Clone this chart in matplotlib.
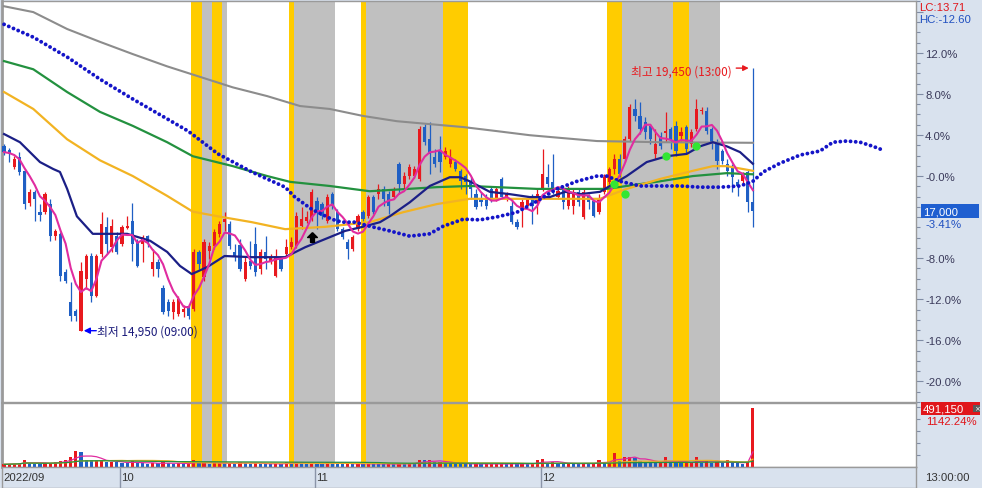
import numpy as np
import pandas as pd
import matplotlib
matplotlib.use("Agg")
import matplotlib.pyplot as plt
from matplotlib import font_manager as fm
from matplotlib.patches import Rectangle

# ---------------- data (prices in KRW) ----------------
opens = [18110, 18050, 17750, 17930, 17690, 17140, 17330, 16980, 16980, 17120,
         16570, 16610, 15960, 15440, 15290, 14950, 15840, 16230, 15540, 16260,
         16730, 16380, 16570, 16440, 16710, 16830, 16470, 16440, 16570, 16010,
         16130, 15680, 15440, 15270, 15240, 15270, 15370, 15320, 16300, 15870,
         16320, 16400, 16610, 16810, 16780, 16300, 16420, 15840, 16140, 16440,
         16010, 16300, 16140, 15890, 16180, 16260, 16380, 16400, 16740, 16830,
         16860, 17170, 17120, 16830, 17290, 16980, 16690, 16470, 16350, 16690,
         16980, 16910, 17240, 17290, 17380, 17290, 17240, 17810, 17460, 17600,
         17600, 17550, 18440, 18230, 17930, 18030, 17930, 17810, 17840, 17690,
         17600, 17510, 17290, 17210, 17210, 17380, 17210, 17550, 17210, 17090,
         16810, 17030, 17090, 17210, 17150, 17380, 17580, 17500, 17240, 17380,
         17090, 17090, 17330, 16900, 17260, 17170, 16980, 17330, 17500, 17720,
         17890, 17890, 18230, 18750, 18630, 18520, 18460, 17980, 18290, 18340,
         18410, 18460, 18290, 18440, 18150, 18410, 18710, 18710, 18410, 18180,
         18030, 17810, 17750, 17500, 17510, 17670, 17150]
highs = [18150, 18080, 17940, 18010, 17720, 17380, 17360, 17120, 17330, 17210,
         16690, 16640, 16010, 15780, 15320, 16130, 16260, 16280, 16260, 16980,
         16900, 16860, 16640, 16760, 16910, 17140, 16520, 16590, 16590, 16350,
         16180, 15730, 15490, 15490, 15540, 15390, 15410, 16350, 16330, 16520,
         16470, 16690, 16830, 16980, 16830, 16440, 16520, 16210, 16490, 16730,
         16350, 16570, 16260, 16350, 16210, 16520, 16560, 16980, 17070, 17000,
         17380, 17240, 17150, 17290, 17330, 17030, 16730, 16520, 16590, 16950,
         17020, 17270, 17270, 17460, 17430, 17340, 17410, 17840, 17670, 17810,
         17770, 18460, 18490, 18520, 18060, 18290, 18100, 18060, 17890, 17720,
         17630, 17580, 17380, 17330, 17290, 17430, 17410, 17580, 17330, 17210,
         16860, 17210, 17240, 17290, 17380, 18060, 17810, 17980, 17410, 17430,
         17430, 17380, 17380, 17380, 17290, 17210, 17290, 17630, 17750, 17980,
         17980, 18290, 18830, 18920, 18870, 18610, 18490, 18410, 18350, 18700,
         18440, 18540, 18440, 18470, 18410, 18920, 18780, 18780, 18440, 18230,
         18060, 17890, 17810, 17550, 17670, 17720, 19450]
lows = [17960, 17840, 17720, 17620, 17030, 17090, 16830, 16830, 16950, 16490,
        16500, 15800, 15770, 15120, 15120, 14950, 15660, 15440, 15530, 16210,
        16260, 16300, 16260, 16400, 16690, 16140, 16040, 16130, 16380, 15890,
        15870, 15240, 15200, 15150, 15200, 15190, 15150, 15290, 16010, 15800,
        16180, 16350, 16560, 16660, 16350, 16140, 15970, 15800, 16010, 15890,
        15920, 16010, 16090, 15870, 15970, 16210, 16350, 16370, 16690, 16790,
        16830, 16690, 16860, 16790, 17030, 16660, 16520, 16180, 16320, 16660,
        16830, 16880, 16950, 17210, 17090, 16950, 17210, 17290, 17380, 17550,
        17570, 17510, 18130, 17630, 17750, 17670, 17890, 17750, 17690, 17380,
        17290, 17210, 17030, 17090, 17030, 17150, 17170, 17210, 17170, 16780,
        16690, 16730, 17030, 16780, 16950, 17340, 17410, 17290, 17210, 17030,
        17030, 16950, 17090, 16860, 17030, 16900, 16950, 17290, 17460, 17630,
        17580, 17840, 18200, 18540, 18320, 18230, 18150, 17890, 18060, 18180,
        18060, 17940, 18200, 17980, 18100, 18370, 18660, 18320, 18060, 17720,
        17810, 17600, 17330, 17260, 17460, 16980, 16730]
closes = [18010, 17980, 17890, 17670, 17120, 17330, 17210, 16930, 17290, 16570,
          16660, 15890, 15800, 15200, 15200, 15970, 16230, 15540, 16230, 16780,
          16440, 16740, 16300, 16730, 16740, 16440, 16060, 16560, 16470, 16130,
          16010, 15270, 15290, 15440, 15490, 15320, 15200, 16300, 16090, 16470,
          16400, 16640, 16780, 16860, 16400, 16230, 16010, 16130, 16060, 15960,
          16300, 16180, 16200, 16230, 16010, 16380, 16470, 16910, 16860, 16900,
          17330, 17000, 16910, 17240, 17090, 16690, 16560, 16350, 16560, 16910,
          16860, 17240, 16980, 17380, 17210, 17090, 17340, 17460, 17600, 17750,
          17720, 18410, 18180, 17980, 17810, 17840, 18030, 17930, 17720, 17510,
          17500, 17380, 17070, 17150, 17090, 17210, 17380, 17240, 17290, 16810,
          16730, 17150, 17210, 17090, 17290, 17630, 17460, 17340, 17340, 17150,
          17380, 17330, 17150, 17330, 17150, 16910, 17210, 17580, 17720, 17890,
          17630, 18230, 18780, 18630, 18410, 18350, 18230, 18150, 18110, 18370,
          18230, 18030, 18350, 18060, 18350, 18750, 18730, 18370, 18180, 17860,
          17860, 17690, 17580, 17430, 17630, 17150, 17000]
volumes = [22000, 25000, 28000, 30000, 60000, 30000, 28000, 26000, 32000, 35000,
           45000, 52000, 55000, 85000, 130000, 125000, 60000, 55000, 58000, 62000,
           40000, 42000, 38000, 35000, 30000, 50000, 35000, 30000, 28000, 32000,
           30000, 38000, 30000, 28000, 30000, 26000, 28000, 60000, 35000, 40000,
           28000, 30000, 32000, 30000, 35000, 25000, 45000, 30000, 25000, 35000,
           28000, 25000, 22000, 28000, 24000, 45000, 30000, 38000, 30000, 26000,
           35000, 28000, 26000, 45000, 30000, 28000, 26000, 30000, 25000, 28000,
           24000, 30000, 26000, 25000, 24000, 26000, 22000, 30000, 28000, 32000,
           30000, 60000, 55000, 55000, 40000, 45000, 35000, 30000, 28000, 26000,
           25000, 24000, 28000, 22000, 24000, 25000, 26000, 28000, 22000, 30000,
           25000, 28000, 24000, 26000, 55000, 65000, 35000, 38000, 28000, 26000,
           30000, 28000, 25000, 35000, 24000, 28000, 60000, 40000, 45000, 120000,
           50000, 80000, 85000, 75000, 50000, 45000, 40000, 35000, 38000, 85000,
           40000, 35000, 30000, 35000, 40000, 85000, 30000, 60000, 35000, 40000,
           30000, 55000, 35000, 30000, 28000, 43000, 491150]

# moving-average lines (bar index, price)
ma20_idx = [0, 3.1, 7, 9.6, 10.9, 12.3, 14.2, 17.3, 24, 28.5, 31.8, 34.3, 36.6, 39.6, 43,
            48.3, 54.8, 58.7, 62.6, 66.5, 70.4, 73.3, 75.2, 79.1, 83, 86.9, 88.9, 90.8,
            94.7, 98.6, 102.5, 106.4, 109.4, 112.3, 116.2, 118.1, 121.4, 125.3, 129.2,
            133.1, 135.7, 138.2, 140.9, 143.5, 146]
ma20_val = [18320, 18180, 17840, 17720, 17670, 17380, 16910, 16610, 16610, 16490, 16300,
            16060, 15920, 16040, 16230, 16210, 16210, 16380, 16520, 16660, 16740, 16810,
            16910, 17150, 17430, 17580, 17580, 17510, 17330, 17290, 17240, 17240, 17330,
            17290, 17330, 17430, 17600, 17840, 17940, 17980, 18110, 18180, 18110, 18010,
            17810]
ma60_idx = [0, 5.7, 12.3, 18.7, 25.1, 31.8, 36.8, 41.7, 48.3, 54.8, 62.6, 71.3, 77.8,
            84.4, 90.8, 97.3, 109.4, 116.2, 121.4, 127.9, 134.3, 138.2, 140.9, 146]
ma60_val = [19040, 18750, 18230, 17870, 17600, 17260, 16990, 16910, 16810, 16690, 16730,
            16810, 16980, 17120, 17210, 17210, 17210, 17210, 17380, 17550, 17690, 17770,
            17770, 17690]
ma120_idx = [0, 5.7, 12.3, 18.7, 25.1, 31.8, 36.8, 44.6, 51.3, 55.8, 63.5, 71.3, 84.4,
             90.8, 103.9, 109.4, 117.5, 121.4, 127.9, 134.3, 140.9, 146]
ma120_val = [19570, 19430, 19040, 18700, 18460, 18180, 17940, 17770, 17600, 17500, 17430,
             17340, 17410, 17430, 17380, 17380, 17380, 17430, 17510, 17600, 17650, 17630]
ma240_idx = [0, 5.7, 12.3, 18.7, 25.1, 31.8, 38.2, 44.6, 51.3, 57.7, 63.5, 70, 76.6, 83,
             89.5, 96.1, 102.5, 109, 115.6, 127.9, 146]
ma240_val = [20510, 20410, 20120, 19900, 19690, 19480, 19300, 19120, 18970, 18800, 18750,
             18630, 18540, 18490, 18440, 18370, 18300, 18250, 18200, 18180, 18170]
span_idx = [0, 5.7, 12.3, 18.7, 25.1, 31.8, 35.9, 41.7, 48.3, 54.8, 56.7, 60, 63.9, 65.9,
            68.4, 71.3, 75.2, 79.1, 83, 85.6, 89.5, 92.8, 96.1, 100, 103.9, 107.8, 111.7,
            115.6, 117.5, 120.1, 124, 127.9, 131.8, 135.7, 139.6, 143.5, 146, 148, 151.3,
            155.2, 159.1, 161.6, 164.3, 166.9, 169.4, 171.2]
span_val = [20200, 19980, 19640, 19260, 18920, 18580, 18370, 17980, 17670, 17410, 17240,
            17030, 16860, 16810, 16810, 16740, 16660, 16570, 16610, 16740, 16860, 16850,
            16900, 16980, 17170, 17380, 17510, 17600, 17600, 17510, 17430, 17430, 17430,
            17410, 17410, 17430, 17510, 17670, 17820, 17960, 18030, 18180, 18200, 18180,
            18110, 18050]

signal_idx = [119, 121, 129, 135]
signal_val = [17460, 17290, 17940, 18110]
arrow_idx = [60]
arrow_val = [16560]

band_start = [37, 39, 41, 43, 56, 57, 70, 71, 86, 118, 121, 131, 134]
band_end = [38, 40, 42, 43, 56, 64, 70, 85, 90, 120, 130, 133, 139]
band_kind = ["Y", "G", "Y", "G", "Y", "G", "Y", "G", "Y", "Y", "G", "Y", "G"]

month_first_bar = [0, 23, 61, 105]
month_labels = ["2022/09", "10", "11", "12"]

base_price = 17600
pct_major = [-20, -16, -12, -8, -4, 0, 4, 8, 12, 16]
pct_hidden = [-4, 16]
high_time = "13:00"
low_time = "09:00"
lc_text = "LC:13.71"
hc_text = "HC:-12.60"
vol_ratio_text = "1142.24%"
axis_time_text = "13:00:00"

# ---------------- style ----------------
STRIP = "#d9e2ee"
RED = "#e8191e"
BLUE = "#1f5fc4"
PINK = "#e02ca0"
NAVY = "#1b1f86"
ORANGE = "#f2b322"
GREEN = "#23913f"
GRAYMA = "#8c8c8c"
DOT = "#1414c8"
YEL = "#ffcc00"
GRB = "#c0c0c0"
SPINE = "#9a9a9a"

names = {f.name for f in fm.fontManager.ttflist}
if "Liberation Sans Narrow" in names:
    NUM_FONT, NUM_SIZE = "Liberation Sans Narrow", 10
else:
    NUM_FONT, NUM_SIZE = "Liberation Sans", 8.2
plt.rcParams["font.family"] = [NUM_FONT, "Noto Sans CJK KR", "DejaVu Sans"]
KR = ["Noto Sans CJK KR", "DejaVu Sans"]

W, H = 982, 489
fig = plt.figure(figsize=(W / 100, H / 100), dpi=100, facecolor=STRIP)


def fx(p):
    return p / W


def fy(p):
    return 1 - p / H


ax = fig.add_axes([fx(2), fy(403), fx(916) - fx(2), fy(2) - fy(403)])
axv = fig.add_axes([fx(2), fy(468), fx(916) - fx(2), fy(404) - fy(468)])
axd = fig.add_axes([fx(2), fy(489), fx(916) - fx(2), fy(468) - fy(489)])

XL = (-0.4, 177.8)
for a in (ax, axv, axd):
    a.set_xlim(*XL)
ax.set_ylim(13730, 20600)
axv.set_ylim(0, 532000)

# shaded periods
for s, e, k in zip(band_start, band_end, band_kind):
    colr = YEL if k == "Y" else GRB
    for a in (ax, axv):
        a.axvspan(s - 0.5, e + 0.5, color=colr, lw=0, zorder=0)

idx = np.arange(len(closes))
o = np.array(opens, float)
c = np.array(closes, float)
up = c >= o
col = np.where(up, RED, BLUE)

# candles
ax.vlines(idx, lows, highs, colors=col, lw=0.9, zorder=3)
ax.bar(idx, np.maximum(np.abs(c - o), 20), bottom=np.minimum(o, c), width=0.62,
       color=col, lw=0, zorder=3)

# lines
ma5 = pd.Series(closes).rolling(5, min_periods=1).mean()
ax.plot(ma240_idx, ma240_val, color=GRAYMA, lw=1.5, zorder=4)
ax.plot(ma120_idx, ma120_val, color=GREEN, lw=1.6, zorder=4)
ax.plot(ma60_idx, ma60_val, color=ORANGE, lw=1.6, zorder=4)
ax.plot(ma20_idx, ma20_val, color=NAVY, lw=1.6, zorder=4)
ax.plot(idx, ma5, color=PINK, lw=1.5, zorder=5)
ax.plot(span_idx, span_val, color=DOT, lw=2.8, linestyle=(0, (0.01, 1.31)),
        dash_capstyle="round", zorder=5)

# signals
ax.plot(signal_idx, signal_val, "o", ms=6, color="#33e633", mec="none", zorder=7)
arrow_marker = [(0, 1), (1, 0), (0.4, 0), (0.4, -1), (-0.4, -1), (-0.4, 0), (-1, 0), (0, 1)]
ax.plot(arrow_idx, arrow_val, marker=arrow_marker, ms=7, color="black", ls="none", zorder=7)

# high / low annotations
imax = int(np.argmax(highs))
hmax = highs[imax]
imin = int(np.argmin(lows))
lmin = lows[imin]
ax.annotate("", xy=(imax, hmax), xytext=(-12, 0), textcoords="offset points",
            arrowprops=dict(arrowstyle="-|>", color=RED, lw=1.0, shrinkA=0, shrinkB=3,
                            mutation_scale=8), zorder=8)
ax.annotate(f"최고 {hmax:,} ({high_time})", xy=(imax, hmax), xytext=(-15, -2),
            textcoords="offset points", ha="right", va="center", color=RED,
            family=KR, size=8.5, zorder=8)
ax.annotate("", xy=(imin, lmin), xytext=(11, 0), textcoords="offset points",
            arrowprops=dict(arrowstyle="-|>", color="#0000ff", lw=1.0, shrinkA=0, shrinkB=2,
                            mutation_scale=9), zorder=8)
ax.annotate(f"최저 {lmin:,} ({low_time})", xy=(imin, lmin), xytext=(11.5, 0),
            textcoords="offset points", ha="left", va="center", color="#1a1a7a",
            family=KR, size=8.5, zorder=8)

# volume pane: red when volume rises vs. previous bar, blue otherwise
vs = pd.Series(volumes)
vup = vs.diff().fillna(0) >= 0
vcol = np.where(vup, RED, BLUE)
axv.bar(idx, volumes, width=0.62, color=vcol, lw=0, zorder=3)
axv.plot(idx, vs.rolling(5, min_periods=1).mean(), color=PINK, lw=0.9, zorder=4)
axv.plot(idx, vs.rolling(20, min_periods=1).mean(), color=ORANGE, lw=0.9, zorder=4)
axv.plot(idx, vs.rolling(60, min_periods=1).mean(), color=GREEN, lw=0.9, zorder=4)

# axes styling
for a in (ax, axv, axd):
    for sp in a.spines.values():
        sp.set_color(SPINE)
        sp.set_linewidth(1)
    a.tick_params(axis="x", bottom=False, labelbottom=False)
ax.spines["left"].set_linewidth(2)
axv.spines["left"].set_linewidth(2)

ticks = [base_price * (1 + p / 100) for p in pct_major]
labels = []
for p in pct_major:
    if p in pct_hidden:
        labels.append("")
    elif p == 0:
        labels.append("-0.0%")
    else:
        labels.append(f"{p:.1f}%")
ax.set_yticks(ticks)
ax.set_yticklabels(labels)
ax.set_yticks([base_price * (1 + p / 100) for p in range(-22, 18)], minor=True)
ax.yaxis.tick_right()
ax.tick_params(axis="y", which="major", length=5, width=0.8, color="#7f8ca5",
               labelcolor="#3a3a5a", labelsize=NUM_SIZE, pad=1.5, left=False)
ax.tick_params(axis="y", which="minor", length=3, width=0.8, color="#7f8ca5", left=False)

axv.yaxis.tick_right()
axv.set_yticks([100000, 200000, 300000, 400000, 500000])
axv.set_yticklabels([])
axv.tick_params(axis="y", length=3, width=0.8, color="#7f8ca5", left=False)

axd.set_facecolor(STRIP)
axd.set_ylim(0, 1)
axd.set_yticks([])
for b, lab in zip(month_first_bar, month_labels):
    if b > 0:
        axd.axvline(b - 0.4, color="#8a94a8", lw=1)
    axd.text(b - 0.1, 0.5, lab, ha="left", va="center", color="#333333", size=NUM_SIZE)


def fig_y(axis, val):
    disp = axis.transData.transform((0, val))
    return fig.transFigure.inverted().transform(disp)[1]


# last price tag
yc = fig_y(ax, closes[-1])
fig.add_artist(Rectangle((fx(921), yc - 7 / H), fx(979) - fx(921), 14 / H,
                         transform=fig.transFigure, fc="#1f5fd0", ec="none", zorder=10))
fig.text(fx(923), yc, f"{closes[-1]:,}", color="white", va="center", ha="left",
         size=NUM_SIZE, zorder=11)
fig.text(fx(925), yc - 13 / H, f"{(closes[-1] / base_price - 1) * 100:.2f}%",
         color="#2050c0", va="center", ha="left", size=NUM_SIZE, zorder=11)

# last volume tag
yv = fig_y(axv, volumes[-1])
fig.add_artist(Rectangle((fx(921), yv - 7 / H), fx(980) - fx(921), 13 / H,
                         transform=fig.transFigure, fc="#e0161b", ec="none", zorder=10))
fig.text(fx(923), yv - 0.5 / H, f"{volumes[-1]:,}", color="white", va="center", ha="left",
         size=NUM_SIZE, zorder=11)
fig.add_artist(Rectangle((fx(973), yv - 4 / H), 7 / W, 7 / H, transform=fig.transFigure,
                         fc="#5a5a5a", ec="none", zorder=12))
fig.text(fx(976.5), yv - 0.5 / H, "×", color="white", va="center", ha="center",
         size=5, family="DejaVu Sans", zorder=13)
fig.text(fx(926), yv - 13 / H, vol_ratio_text, color="#e0161b", va="center", ha="left",
         size=NUM_SIZE, zorder=11)

# top-right texts
fig.text(fx(919), fy(8), lc_text, color="#e0161b", va="center", ha="left", size=NUM_SIZE)
fig.text(fx(919), fy(20), hc_text, color="#2050c0", va="center", ha="left", size=NUM_SIZE)
fig.text(fx(925), fy(478), axis_time_text, color="#333333", va="center", ha="left",
         size=NUM_SIZE)

fig.savefig("out.png", dpi=100, facecolor=STRIP)
